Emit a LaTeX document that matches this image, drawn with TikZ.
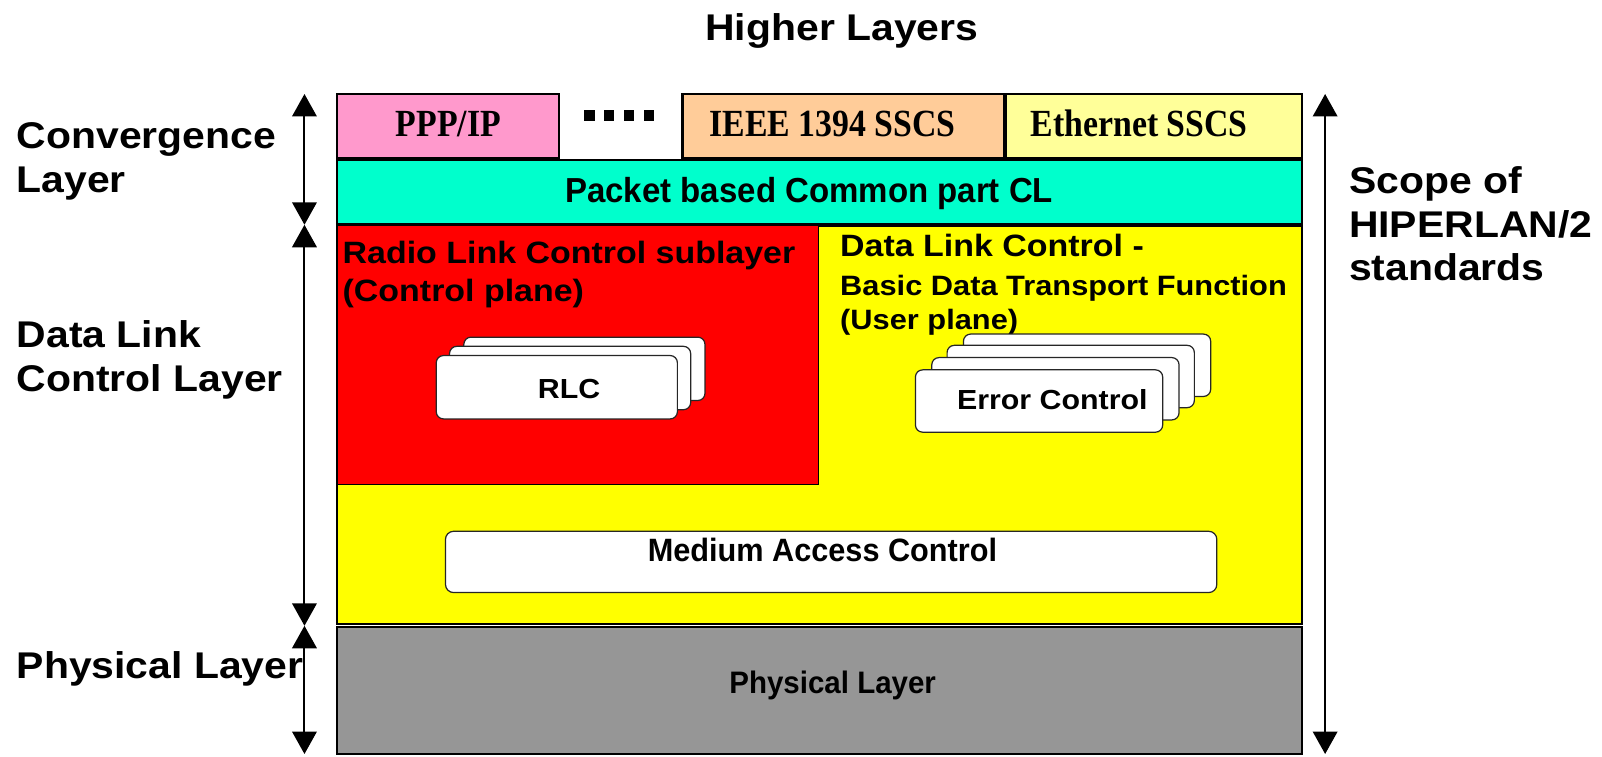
\documentclass[tikz,border=0pt]{standalone}
\usepackage{fontspec}
\setmainfont{Liberation Sans}
\newfontfamily\widesans{Liberation Sans}[FakeStretch=1.1]
\newfontfamily\narrowsans{Liberation Sans}[FakeStretch=0.95]
\newfontfamily\ssfont{Liberation Serif}[FakeStretch=0.88]
\usetikzlibrary{arrows.meta}
\definecolor{pppc}{HTML}{FF99CC}
\definecolor{ieeec}{HTML}{FFCC99}
\definecolor{ethc}{HTML}{FFFF99}
\definecolor{clc}{HTML}{00FFCC}
\definecolor{dlcc}{HTML}{FFFF00}
\definecolor{rlcc}{HTML}{FF0000}
\definecolor{phyc}{HTML}{969696}
\begin{document}
\begin{tikzpicture}[x=0.5pt,y=-0.5pt,
  layerbox/.style={draw=black,line width=1pt},
  card/.style={draw=black!85,fill=white,line width=0.6pt,rounded corners=3.5pt},
  span/.style={line width=1pt,>={Triangle[width=12pt,length=11pt]},<->},
  biglbl/.style={font=\widesans\bfseries\fontsize{18.2}{21.5}\selectfont,inner sep=0pt,align=left},
  midlbl/.style={font=\widesans\bfseries\fontsize{15.1}{18.5}\selectfont,inner sep=0pt,align=left},
  smalllbl/.style={font=\widesans\bfseries\fontsize{13.7}{16.5}\selectfont,inner sep=0pt,align=left},
  boxlbl/.style={font=\widesans\bfseries\fontsize{13.5}{15}\selectfont,inner sep=0pt},
  barlbl/.style={font=\narrowsans\bfseries\fontsize{15.8}{18}\selectfont,inner sep=0pt},
  sscslbl/.style={font=\ssfont\bfseries\fontsize{18.8}{20}\selectfont,inner sep=0pt}]
\useasboundingbox (0,0) rectangle (1568,740);

\node[biglbl] (higher) at (824,30) {Higher Layers};

\draw[layerbox,fill=pppc] (330,92) rectangle (547,155);
\draw[layerbox,fill=ieeec] (668,92) rectangle (983,155);
\draw[layerbox,fill=ethc] (985,92) rectangle (1274,155);
\node[sscslbl] (ppp) at (439,121) {PPP/IP};
\node[sscslbl] (ieee) at (815,121) {IEEE 1394 SSCS};
\node[sscslbl] (eth) at (1115,121) {Ethernet SSCS};
\foreach \i in {0,...,3}
  \fill (572+19.3*\i,108) rectangle +(10,10);

\draw[layerbox,fill=clc] (330,157) rectangle (1274,219);
\node[barlbl,font=\narrowsans\bfseries\fontsize{17}{18}\selectfont] (cl) at (792,189) {Packet based Common part CL};

\draw[layerbox,fill=dlcc] (330,221) rectangle (1274,611);
\draw[line width=0.6pt,fill=rlcc] (330,221) rectangle (801,474);
\node[midlbl,anchor=north west] (rlctitle) at (335,236) {Radio Link Control sublayer\\(Control plane)};
\node[midlbl,anchor=west] (dlctitle) at (822,240) {Data Link Control -};
\node[smalllbl,anchor=north west] (dlcsub) at (822,269) {Basic Data Transport Function\\(User plane)};

\foreach \dx/\dy in {27/-18,13/-9,0/0}
  \draw[card] (427+\dx,348+\dy) rectangle (663+\dx,410+\dy);
\node[boxlbl] (rlc) at (557,381) {RLC};

\foreach \dx/\dy in {47/-35,31/-24,16/-12,0/0}
  \draw[card] (896+\dx,362+\dy) rectangle (1138+\dx,423+\dy);
\node[boxlbl] (ec) at (1030,391) {Error Control};

\draw[card,rounded corners=4pt] (436,520) rectangle (1191,580);
\node[barlbl] (mac) at (805,538) {Medium Access Control};

\draw[layerbox,fill=phyc] (330,614) rectangle (1274,738);
\node[barlbl,font=\narrowsans\bfseries\fontsize{15.2}{16}\selectfont] (phy) at (815,671) {Physical Layer};

\coordinate (l0) at (298,92);
\coordinate (l1) at (298,220);
\coordinate (l2) at (298,612.5);
\coordinate (l3) at (298,738);
\draw[span] (l0) -- (l1);
\draw[span] (l1) -- (l2);
\draw[span] (l2) -- (l3);
\coordinate (r0) at (1297,92);
\coordinate (r1) at (1297,738);
\draw[span] (r0) -- (r1);

\node[biglbl,anchor=west] (convlbl) at (16,158) {Convergence\\Layer};
\node[biglbl,anchor=west] (dlclbl) at (16,352) {Data Link\\Control Layer};
\node[biglbl,anchor=west] (phylbl) at (16,655) {Physical Layer};
\node[biglbl,anchor=west] (scopelbl) at (1320,219) {Scope of\\HIPERLAN/2\\standards};
\end{tikzpicture}
\end{document}
